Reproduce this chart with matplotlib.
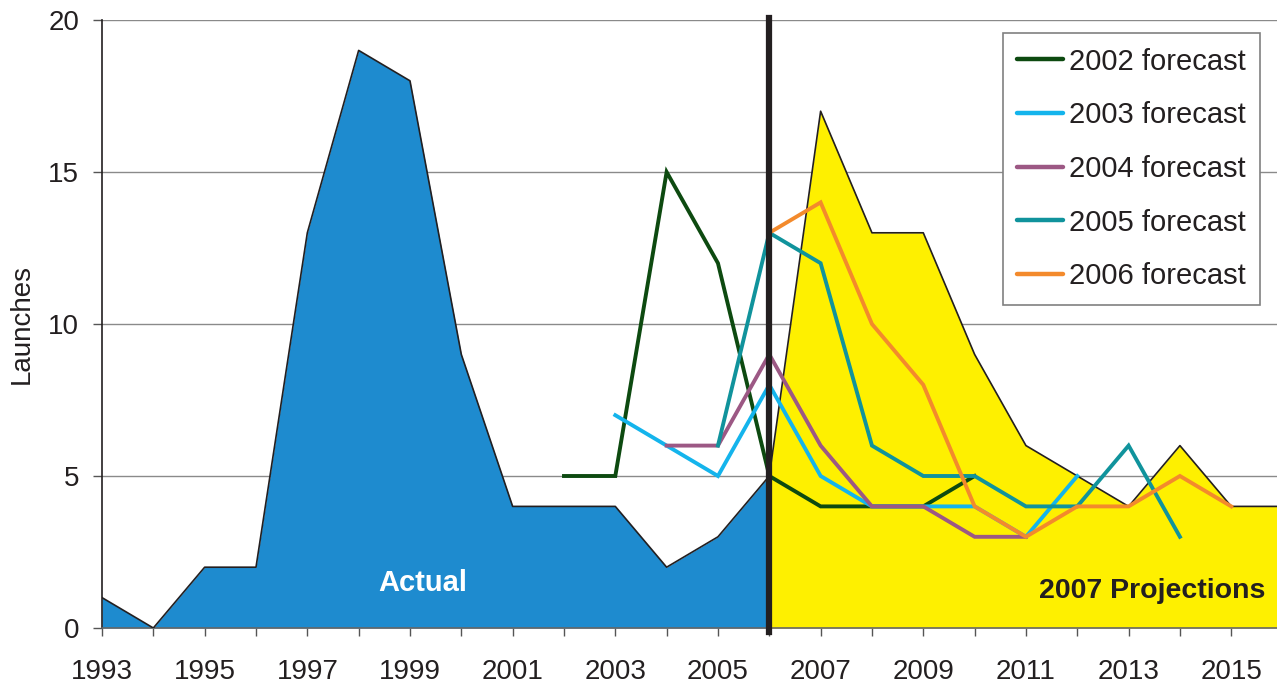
import matplotlib
matplotlib.use("Agg")
import matplotlib.pyplot as plt
from matplotlib.ticker import MultipleLocator

plt.rcParams['font.family'] = ['Liberation Sans', 'DejaVu Sans']

actual_years = [1993, 1994, 1995, 1996, 1997, 1998, 1999, 2000, 2001, 2002, 2003, 2004, 2005, 2006]
actual_vals = [1, 0, 2, 2, 13, 19, 18, 9, 4, 4, 4, 2, 3, 5]

proj_years = [2006, 2007, 2008, 2009, 2010, 2011, 2012, 2013, 2014, 2015, 2016]
proj_vals = [5, 17, 13, 13, 9, 6, 5, 4, 6, 4, 4]

f2002_years = [2002, 2003, 2004, 2005, 2006, 2007, 2008, 2009, 2010]
f2002_vals = [5, 5, 15, 12, 5, 4, 4, 4, 5]
f2003_years = [2003, 2004, 2005, 2006, 2007, 2008, 2009, 2010, 2011, 2012]
f2003_vals = [7, 6, 5, 8, 5, 4, 4, 4, 3, 5]
f2004_years = [2004, 2005, 2006, 2007, 2008, 2009, 2010, 2011]
f2004_vals = [6, 6, 9, 6, 4, 4, 3, 3]
f2005_years = [2005, 2006, 2007, 2008, 2009, 2010, 2011, 2012, 2013, 2014]
f2005_vals = [6, 13, 12, 6, 5, 5, 4, 4, 6, 3]
f2006_years = [2006, 2007, 2008, 2009, 2010, 2011, 2012, 2013, 2014, 2015]
f2006_vals = [13, 14, 10, 8, 4, 3, 4, 4, 5, 4]

forecast_labels = ["2002 forecast", "2003 forecast", "2004 forecast", "2005 forecast", "2006 forecast"]
forecast_colors = ["#0d4a10", "#14b4ec", "#9c5884", "#10939c", "#f38a2c"]

fig = plt.figure(figsize=(12.77, 6.88), dpi=100)
ax = fig.add_axes([102/1277, 60/688, (1282.6-102)/1277, 608/688])

ax.set_xlim(1993, 2016)
ax.set_ylim(0, 20)

ax.yaxis.grid(True, color="#8a8a8a", linewidth=1.0)
ax.set_axisbelow(True)

ax.fill_between(actual_years, actual_vals, 0, color="#1e8bcf", linewidth=0, zorder=2)
ax.plot(actual_years, actual_vals, color="#231f20", linewidth=1.2, zorder=3)
ax.fill_between(proj_years, proj_vals, 0, color="#fef000", linewidth=0, zorder=2)
ax.plot(proj_years, proj_vals, color="#231f20", linewidth=1.2, zorder=3)

series = [(f2002_years, f2002_vals), (f2003_years, f2003_vals), (f2004_years, f2004_vals),
          (f2005_years, f2005_vals), (f2006_years, f2006_vals)]
for (xs, ys), lab, c in zip(series, forecast_labels, forecast_colors):
    ax.plot(xs, ys, color=c, linewidth=2.8, label=lab, zorder=4, solid_joinstyle='miter')

ax.axvline(2006, color="#231f20", linewidth=4.5, zorder=6, ymin=-0.007, ymax=1.003, clip_on=False)

ax.text(1999.24, 1.48, "Actual", color="white", fontsize=21, fontweight="bold",
        ha="center", va="center", zorder=7)
ax.text(2013.45, 1.22, "2007 Projections", color="#231f20", fontsize=20.5, fontweight="bold",
        ha="center", va="center", zorder=7)

ax.set_ylabel("Launches", fontsize=20, color="#231f20")
ax.yaxis.set_label_coords(-0.0567, 0.5008)

ax.set_xticks(list(range(1993, 2016, 2)))
ax.xaxis.set_minor_locator(MultipleLocator(1))
ax.set_yticks([0, 5, 10, 15, 20])
ax.tick_params(axis='x', which='both', direction='out', length=6, width=1, color="#555555",
               labelsize=20, labelcolor="#231f20", pad=16)
ax.tick_params(axis='y', direction='out', length=6.5, width=1, color="#555555",
               labelsize=20, labelcolor="#231f20", pad=10)

for s in ["top", "right"]:
    ax.spines[s].set_visible(False)
ax.spines["left"].set_color("#231f20")
ax.spines["left"].set_linewidth(1.2)
ax.spines["bottom"].set_color("#666666")
ax.spines["bottom"].set_linewidth(1.2)

leg = ax.legend(loc="upper right", bbox_to_anchor=(0.9808, 0.9786), fontsize=21,
                frameon=True, fancybox=False, edgecolor="#808080", framealpha=1,
                handlelength=1.58, handletextpad=0.18, labelspacing=0.88, borderpad=0.5,
                borderaxespad=0)
leg.get_frame().set_linewidth(1.2)
leg.set_zorder(10)
for t in leg.get_texts():
    t.set_color("#231f20")
for h in leg.get_lines():
    h.set_linewidth(3.2)
    h.set_solid_capstyle('round')

fig.savefig("out.png", dpi=100)
